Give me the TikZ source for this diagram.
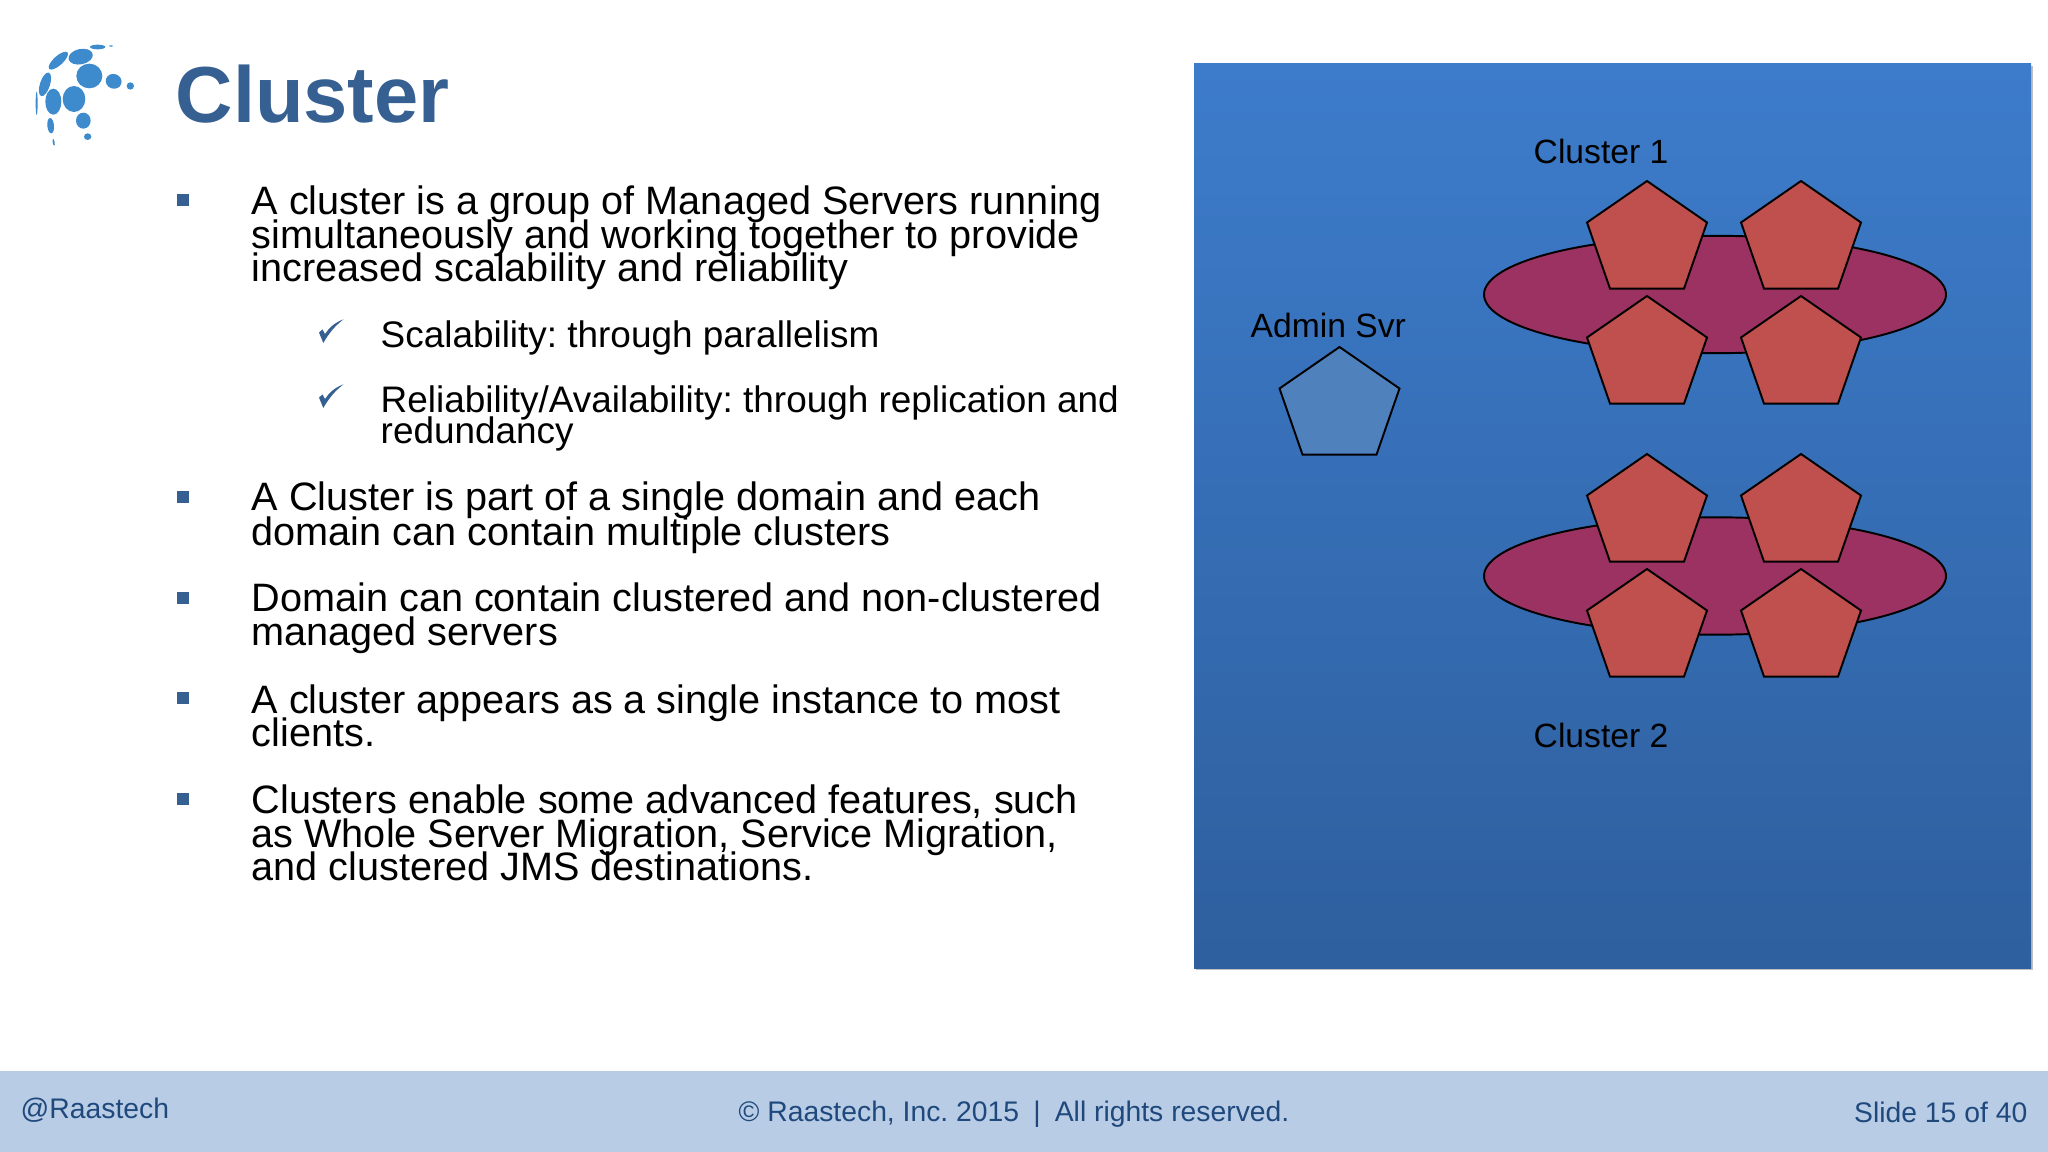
\documentclass[tikz,border=0pt]{standalone}
\usepackage{fontspec}
\setmainfont{Liberation Sans}
\frenchspacing
\definecolor{titleblue}{HTML}{366092}
\definecolor{logoblue}{HTML}{3D8BCD}
\definecolor{footblue}{HTML}{B8CDE5}
\definecolor{foottext}{HTML}{1F497D}
\definecolor{paneltop}{HTML}{3D7CCB}
\definecolor{panelbot}{HTML}{2E5F9E}
\definecolor{srvred}{HTML}{C0504D}
\definecolor{srvblue}{HTML}{4F81BD}
\definecolor{clusplum}{HTML}{9B3262}
\tikzset{%
  mytitle/.style={anchor=base west, inner sep=0pt, text=titleblue, font=\fontsize{22.6}{24}\selectfont\bfseries},
  mybody/.style={anchor=base west, inner sep=0pt, font=\fontsize{11.27}{12}\selectfont},
  mysub/.style={anchor=base west, inner sep=0pt, font=\fontsize{10.5}{12}\selectfont},
  mylabel/.style={anchor=base west, inner sep=0pt, font=\fontsize{9.57}{12}\selectfont},
  myfoot/.style={anchor=base west, inner sep=0pt, text=foottext, font=\fontsize{8.05}{10}\selectfont},
  myserver/.style={draw=black, line width=0.55pt}
}

\begin{document}
\begin{tikzpicture}[x=0.01cm, y=-0.01cm]
\useasboundingbox (0,0) rectangle (2048,1152);

% footer
\fill [footblue] (0,1071) rectangle (2048,1152);
\node [myfoot] (handle) at (20,1118) {@Raastech};
\node [myfoot] (copy) at (738,1121) {© Raastech, Inc. 2015\enspace|\enspace All rights reserved.};
\node [myfoot, anchor=base east] (slide) at (2028,1122) {Slide 15 of 40};

% logo
\foreach \x / \y / \a / \b / \r in {268/168/39/37/0, 222/237/34/39/0, 160/245/24/39/0,
    242/110/37/23/12, 175/122/37/14/42, 135/193/37/15/72, 341/184/24/22/-20, 391/198/11/11/0,
    250/302/22/24/0, 152/317/10/23/5, 263/350/11/10/0, 293/81/23/7/0, 161/367/3/10/10,
    110/250/3/35/0, 333/78/6/2/0}{
  \fill [logoblue, rotate around={\r:(\x/3,20+\y/3)}] (\x/3,20+\y/3) ellipse [x radius=\a/3, y radius=\b/3];
}

% title and text
\node [mytitle] (title) at (175,123) {Cluster};

\foreach \nm / \y / \txt in {A1/215/{A cluster is a group of Managed Servers running},
    A2/249/{simultaneously and working together to provide},
    A3/282/{increased scalability and reliability},
    B1/511/{A Cluster is part of a single domain and each},
    B2/545/{domain can contain multiple clusters},
    C1/611/{Domain can contain clustered and non-clustered},
    C2/646/{managed servers},
    D1/713/{A cluster appears as a single instance to most},
    D2/746/{clients.},
    E1/813/{Clusters enable some advanced features, such},
    E2/847/{as Whole Server Migration, Service Migration,},
    E3/880/{and clustered JMS destinations.}}{
  \node [mybody] (\nm) at (251,\y) {\txt};
}

\foreach \nm / \y / \txt in {S1/348/{Scalability: through parallelism},
    S2/413/{Reliability/Availability: through replication and},
    S3/444/{redundancy}}{
  \node [mysub] (\nm) at (380,\y) {\txt};
}

% bullets
\foreach \y in {194,491,592,692,793}{
  \fill [titleblue] (177,\y) rectangle +(12,12);
}
\foreach \y in {319,384}{
  \fill [titleblue] (319,\y+13.5) -- (323.3,\y+24) .. controls (329,\y+14) and (335,\y+7) .. (343.5,\y+0.3)
    .. controls (334,\y+4) and (329,\y+9) .. (325,\y+15) -- (322.5,\y+10.5) -- cycle;
}

% panel
\fill [black!25] (1196,66) rectangle (2033,970);
\shade [top color=paneltop, bottom color=panelbot] (1194,64) rectangle (2031,968);

\draw [myserver, fill=clusplum] (1715,294.5) ellipse [x radius=231, y radius=58.7];
\draw [myserver, fill=clusplum] (1715,576) ellipse [x radius=231, y radius=58.7];

\foreach \nm / \x / \y / \col in {A/1339.5/347/srvblue, X11/1647/181/srvred, X12/1801/181/srvred,
    X13/1647/296/srvred, X14/1801/296/srvred, X21/1647/454/srvred, X22/1801/454/srvred,
    X23/1647/569/srvred, X24/1801/569/srvred}{
  \coordinate (\nm) at (\x,\y);
  \draw [myserver, fill=\col] (\nm) -- +(60,41.5) -- +(37,107.6) -- +(-37,107.6) -- +(-60,41.5) -- cycle;
}

\node [mylabel] (clusterA) at (1533,164) {Cluster 1};
\node [mylabel] (clusterB) at (1533,747) {Cluster 2};
\node [mylabel] (admin) at (1250,338) {Admin Svr};

\end{tikzpicture}
\end{document}
